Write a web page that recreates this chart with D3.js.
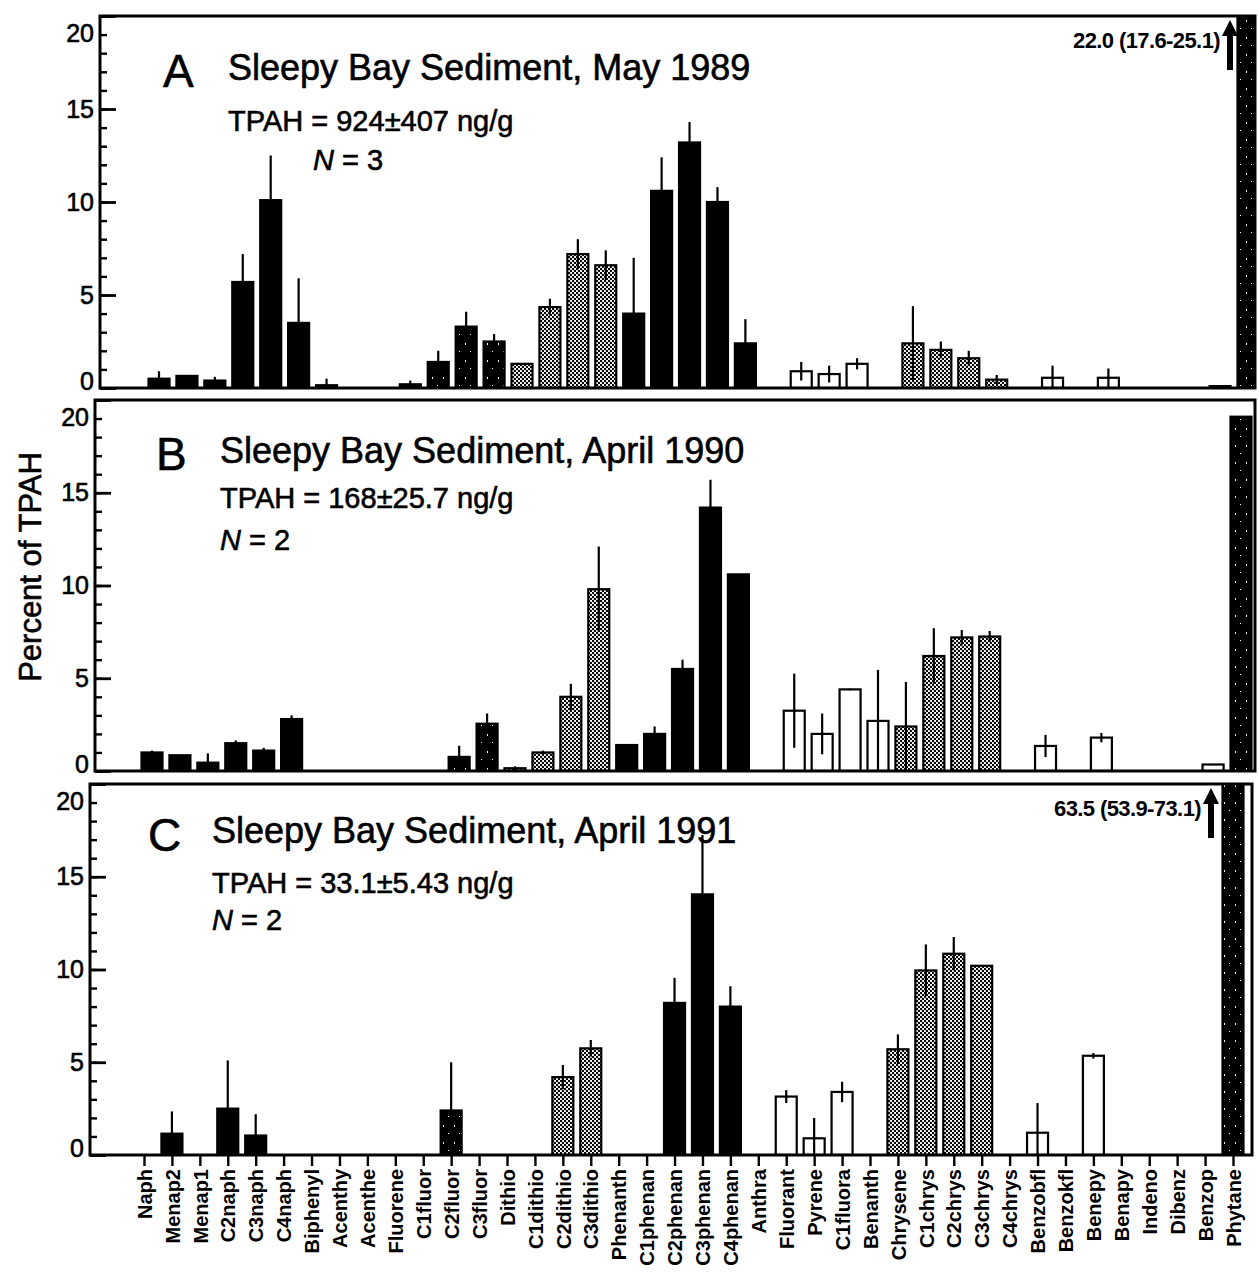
<!DOCTYPE html>
<html>
<head>
<meta charset="utf-8">
<script src="https://cdn.jsdelivr.net/npm/d3@7"></script>
<style>
  body { margin: 0; background: #fff; }
  text { font-family: "Liberation Sans", Arial, Helvetica, sans-serif; fill: #000; }
</style>
</head>
<body>
<svg id="chart" width="1259" height="1288"></svg>
<script>
// Compounds along the x axis
const categories = ["Naph","Menap2","Menap1","C2naph","C3naph","C4naph","Biphenyl","Acenthy","Acenthe","Fluorene",
  "C1fluor","C2fluor","C3fluor","Dithio","C1dithio","C2dithio","C3dithio","Phenanth","C1phenan","C2phenan",
  "C3phenan","C4phenan","Anthra","Fluorant","Pyrene","C1fluora","Benanth","Chrysene","C1chrys","C2chrys",
  "C3chrys","C4chrys","Benzobfl","Benzokfl","Benepy","Benapy","Indeno","Dibenz","Benzop","Phytane"];

// Shading of each compound family: solid, speck (dark mottled), screen (dot screen), open
const fillType = ["solid","solid","solid","solid","solid","solid","solid","solid","solid","solid",
  "speck","speck","speck","screen","screen","screen","screen","solid","solid","solid",
  "solid","solid","solid","open","open","open","open","screen","screen","screen",
  "screen","screen","open","open","open","open","open","open","open","speck"];

// Percent of TPAH, mean and +/- spread
const mean1989 = [0.5,0.65,0.4,5.7,10.1,3.5,0.15,0,0,0.2,
  1.4,3.3,2.5,1.3,4.35,7.2,6.6,4.0,10.6,13.2,
  10.0,2.4,0,0.9,0.75,1.3,0,2.4,2.05,1.6,
  0.45,0,0.55,0,0.55,0,0,0,0.1,22.0];
const err1989 = [0.4,0.05,0.2,1.5,2.4,2.4,0.35,0,0,0.2,
  0.6,0.8,0.4,0,0.45,0.8,0.8,3.0,1.8,1.1,
  0.8,1.3,0,0.5,0.45,0.3,0,2.0,0.45,0.4,
  0.25,0,0.65,0,0.5,0,0,0,0,3.1];

const mean1990 = [1.0,0.85,0.45,1.5,1.1,2.8,0,0,0,0,
  0,0.76,2.55,0.15,1.0,4.0,9.8,1.4,2.0,5.5,
  14.2,10.6,0,3.25,2.0,4.4,2.7,2.4,6.2,7.2,
  7.25,0,1.35,0,1.8,0,0,0,0.35,19.1];
const err1990 = [0.1,0,0.5,0.15,0.15,0.2,0,0,0,0,
  0,0.6,0.55,0.1,0.1,0.7,2.3,0.05,0.4,0.5,
  1.5,0,0,2.0,1.1,0.05,2.75,2.4,1.5,0.4,
  0.3,0,0.6,0,0.25,0,0,0,0,0];

const mean1991 = [0,1.15,0,2.5,1.05,0,0,0,0,0,
  0,2.4,0,0,0,4.2,5.75,0,0,8.2,
  14.05,8.0,0,3.15,0.9,3.4,0,5.7,9.95,10.85,
  10.2,0,1.2,0,5.35,0,0,0,0,63.5];
const err1991 = [0,1.2,0,2.6,1.15,0,0,0,0,0,
  0,2.6,0,0,0,0.65,0.45,0,0,1.35,
  3.2,1.1,0,0.35,1.1,0.55,0,0.8,1.4,0.9,
  0,0,1.6,0,0.15,0,0,0,0,9.6];

const yTicks = [0, 5, 10, 15, 20];
const panelLetters = ["A", "B", "C"];
const panelTitles = ["Sleepy Bay Sediment, May 1989", "Sleepy Bay Sediment, April 1990", "Sleepy Bay Sediment, April 1991"];
const tpahLines = ["TPAH = 924\u00B1407 ng/g", "TPAH = 168\u00B125.7 ng/g", "TPAH = 33.1\u00B15.43 ng/g"];
const sampleCounts = ["3", "2", "2"];
const offscaleNotes = ["22.0 (17.6-25.1)", null, "63.5 (53.9-73.1)"];

const svg = d3.select("#chart");
const defs = svg.append("defs");

// dot screen used for the dibenzothiophene and chrysene families
const screen = defs.append("pattern").attr("id", "screen")
  .attr("patternUnits", "userSpaceOnUse").attr("width", 4).attr("height", 4);
screen.append("rect").attr("width", 4).attr("height", 4).attr("fill", "#fff");
screen.append("circle").attr("cx", 1).attr("cy", 1).attr("r", 1.2).attr("fill", "#000");
screen.append("circle").attr("cx", 3).attr("cy", 3).attr("r", 1.2).attr("fill", "#000");

// dark mottled shading for the fluorenes and phytane
const speck = defs.append("pattern").attr("id", "speck")
  .attr("patternUnits", "userSpaceOnUse").attr("width", 11).attr("height", 17);
speck.append("rect").attr("width", 11).attr("height", 17).attr("fill", "#000");
speck.append("rect").attr("x", 3).attr("y", 3).attr("width", 1).attr("height", 2).attr("fill", "#fff");
speck.append("rect").attr("x", 8).attr("y", 11).attr("width", 1).attr("height", 1).attr("fill", "#fff");

const fillFor = t => t === "solid" ? "#000" : t === "open" ? "#fff" : t === "screen" ? "url(#screen)" : "url(#speck)";

const panels = [
  { mean: mean1989, err: err1989, left: 100, right: 1255, top: 16,  bottom: 388,  dx: 15,
    letter: [163, 87], title: [228, 80], tpah: [228, 131], n: [313, 170], arrowX: 1230 },
  { mean: mean1990, err: err1990, left: 95,  right: 1255, top: 400, bottom: 771,  dx: 8,
    letter: [156, 470], title: [220, 463], tpah: [220, 508], n: [220, 550], arrowX: null },
  { mean: mean1991, err: err1991, left: 90,  right: 1252, top: 784, bottom: 1155, dx: 0,
    letter: [148, 851], title: [212, 843], tpah: [212, 893], n: [212, 930], arrowX: 1211 }
];

const barWidth = 21;
const heavy = sel => sel.attr("stroke", "#000").attr("stroke-width", 0.6);

panels.forEach((p, i) => {
  const x = d3.scalePoint().domain(categories).range([144 + p.dx, 1233 + p.dx]);
  const y = d3.scaleLinear().domain([0, 20]).range([p.bottom, p.top]);
  const g = svg.append("g");

  defs.append("clipPath").attr("id", "plot" + i)
    .append("rect").attr("x", p.left).attr("y", p.top)
    .attr("width", p.right - p.left).attr("height", p.bottom - p.top);

  const rows = categories.map((c, k) => ({ c, v: p.mean[k], e: p.err[k], t: fillType[k] }));
  const plot = g.append("g").attr("clip-path", `url(#plot${i})`);

  plot.selectAll("rect.bar").data(rows.filter(d => d.v > 0)).join("rect")
    .attr("class", "bar")
    .attr("x", d => x(d.c) - barWidth / 2)
    .attr("y", d => y(d.v))
    .attr("width", barWidth)
    .attr("height", d => y(0) - y(d.v))
    .attr("fill", d => fillFor(d.t))
    .attr("stroke", "#000").attr("stroke-width", 2.2);

  plot.selectAll("line.err").data(rows.filter(d => d.v > 0 && d.e > 0)).join("line")
    .attr("class", "err")
    .attr("x1", d => x(d.c)).attr("x2", d => x(d.c))
    .attr("y1", d => y(Math.max(0, d.v - d.e)))
    .attr("y2", d => y(d.v + d.e))
    .attr("stroke", "#000").attr("stroke-width", 2.2);

  // y axis: minor ticks each unit, major ticks with labels
  const minor = g.append("g").attr("transform", `translate(${p.left},0)`)
    .call(d3.axisLeft(y).tickValues(d3.range(0, 21)).tickSize(-7).tickFormat(""));
  minor.select(".domain").remove();
  minor.selectAll("line").attr("stroke-width", 2.4);

  const major = g.append("g").attr("transform", `translate(${p.left},0)`)
    .call(d3.axisLeft(y).tickValues(yTicks).tickSize(-16).tickPadding(6));
  major.select(".domain").remove();
  major.selectAll("line").attr("stroke-width", 2.8);
  major.selectAll("text").attr("font-size", 25).attr("fill", "#000")
    .attr("font-family", "'Liberation Sans', Arial, sans-serif")
    .attr("dy", d => d === 20 ? "1.0em" : d === 0 ? "0.05em" : "0.32em")
    .call(heavy);

  // panel frame
  g.append("rect").attr("x", p.left).attr("y", p.top)
    .attr("width", p.right - p.left).attr("height", p.bottom - p.top)
    .attr("fill", "none").attr("stroke", "#000").attr("stroke-width", 3);

  // headings
  g.append("text").attr("x", p.letter[0]).attr("y", p.letter[1]).attr("font-size", 46).text(panelLetters[i]).call(heavy);
  g.append("text").attr("x", p.title[0]).attr("y", p.title[1]).attr("font-size", 36).text(panelTitles[i]).call(heavy);
  g.append("text").attr("x", p.tpah[0]).attr("y", p.tpah[1]).attr("font-size", 29).text(tpahLines[i]).call(heavy);
  const nt = g.append("text").attr("x", p.n[0]).attr("y", p.n[1]).attr("font-size", 29).call(heavy);
  nt.append("tspan").attr("font-style", "italic").text("N");
  nt.append("tspan").text(" = " + sampleCounts[i]);

  // off-scale phytane value
  if (offscaleNotes[i]) {
    const ax = p.arrowX, tip = p.top + 4, tail = p.top + 54;
    g.append("line").attr("x1", ax).attr("x2", ax).attr("y1", tail).attr("y2", tip + 12)
      .attr("stroke", "#000").attr("stroke-width", 6);
    g.append("path").attr("d", `M${ax - 8},${tip + 16} L${ax},${tip} L${ax + 8},${tip + 16} Z`).attr("fill", "#000");
    g.append("text").attr("x", ax - 10).attr("y", p.top + 32).attr("text-anchor", "end")
      .attr("font-size", 22).attr("font-weight", "bold").attr("letter-spacing", -0.6)
      .text(offscaleNotes[i]);
  }

  // compound names under the last panel
  if (i === panels.length - 1) {
    const xa = g.append("g").attr("transform", `translate(0,${p.bottom})`)
      .call(d3.axisBottom(x).tickSize(11).tickPadding(3));
    xa.select(".domain").remove();
    xa.selectAll("line").attr("stroke-width", 2.4);
    xa.selectAll("text")
      .attr("transform", "rotate(-90)")
      .attr("text-anchor", "end")
      .attr("x", -14).attr("y", 0).attr("dy", "0.36em")
      .attr("font-size", 20).attr("font-weight", "bold").attr("fill", "#000")
      .attr("font-family", "'Liberation Sans', Arial, sans-serif");
  }
});

// shared y-axis title
svg.append("text")
  .attr("transform", "translate(41,567) rotate(-90)")
  .attr("text-anchor", "middle")
  .attr("font-size", 31)
  .text("Percent of TPAH")
  .call(heavy);
</script>
</body>
</html>
